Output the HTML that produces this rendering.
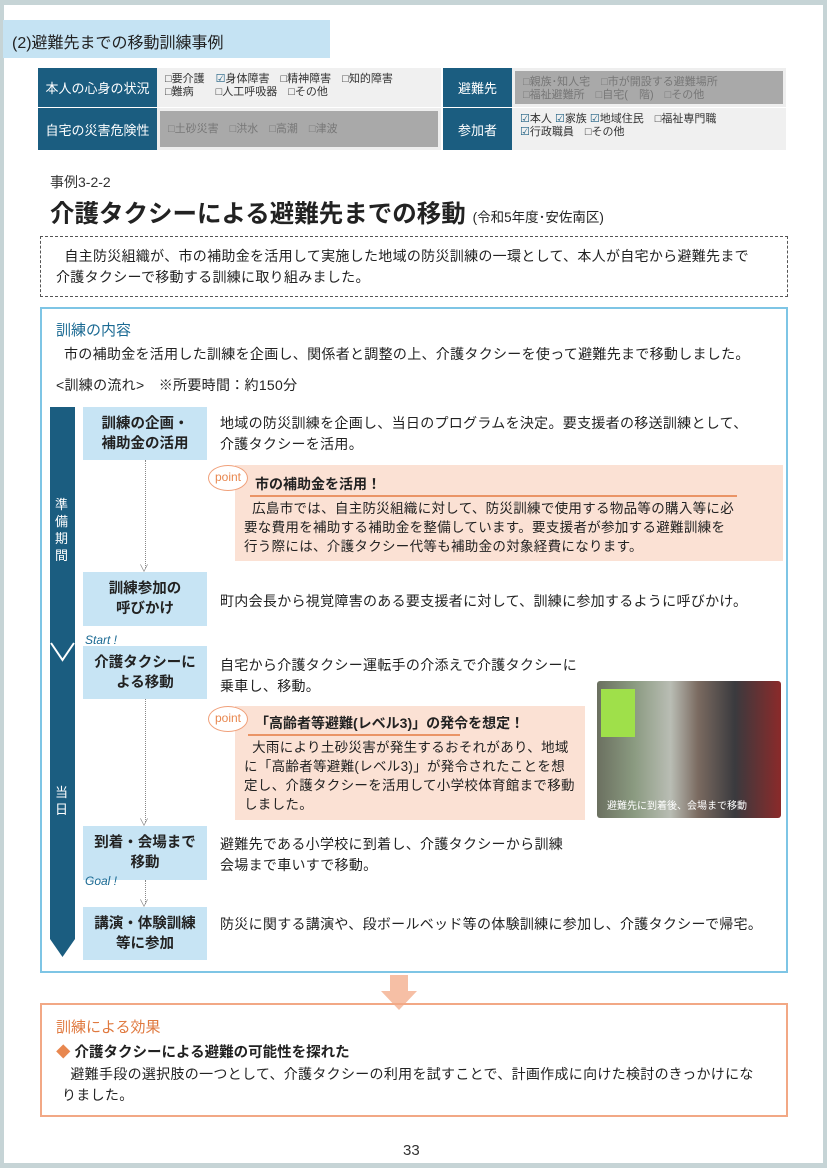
<!DOCTYPE html>
<html><head><meta charset="utf-8"><style>
*{margin:0;padding:0;box-sizing:border-box}
body{width:827px;height:1168px;background:#c6d4d6;position:relative;overflow:hidden;font-family:"Liberation Sans","Noto Sans CJK JP",sans-serif;color:#222}
.a{position:absolute}
.page{left:4px;top:5px;width:819px;height:1158px;background:#fff}
.lab{background:#1b5d80;color:#fff;font-size:13px;display:flex;align-items:center;justify-content:center}
.cell{font-size:11px;line-height:13px;padding:5px 8px;color:#333;white-space:nowrap}
.step{background:#c7e4f4;font-size:14.5px;line-height:20px;text-align:center;display:flex;align-items:center;justify-content:center;font-weight:bold;color:#222}
.t{font-size:14px;line-height:21px;letter-spacing:0.3px}
.pt{background:#fbe1d4}
.pi{width:40px;height:26px;border:1.5px solid #f0a07a;border-radius:50%;background:#fff;color:#e8874f;font-size:12px;text-align:center;line-height:22px}
.dl{border-left:1.5px dotted #888}
.pb{font-size:13.5px;line-height:19px;letter-spacing:0.3px}
</style></head><body>
<div class="a page"></div>
<div class="a" style="left:3px;top:20px;width:327px;height:38px;background:#c5e3f3"></div>
<div class="a" style="left:12px;top:29px;font-size:16px">(2)避難先までの移動訓練事例</div>

<div class="a lab" style="left:38px;top:68px;width:119px;height:39px">本人の心身の状況</div>
<div class="a cell" style="left:157px;top:68px;width:284px;height:39px;background:#f0f0f0">□要介護　<span style="color:#1b5d80">☑</span>身体障害　□精神障害　□知的障害<br>□難病　　□人工呼吸器　□その他</div>
<div class="a lab" style="left:443px;top:68px;width:69px;height:39px">避難先</div>
<div class="a cell" style="left:512px;top:68px;width:274px;height:39px;background:#a9a9a9;border:3px solid #eee;color:#777">□親族･知人宅　□市が開設する避難場所<br>□福祉避難所　□自宅(　階)　□その他</div>
<div class="a lab" style="left:38px;top:108px;width:119px;height:42px">自宅の災害危険性</div>
<div class="a cell" style="left:157px;top:108px;width:284px;height:42px;background:#a9a9a9;border:3px solid #eee;color:#777;padding-top:12px">□土砂災害　□洪水　□高潮　□津波</div>
<div class="a lab" style="left:443px;top:108px;width:69px;height:42px">参加者</div>
<div class="a cell" style="left:512px;top:108px;width:274px;height:42px;background:#f0f0f0"><span style="color:#1b5d80">☑</span>本人 <span style="color:#1b5d80">☑</span>家族 <span style="color:#1b5d80">☑</span>地域住民　□福祉専門職<br><span style="color:#1b5d80">☑</span>行政職員　□その他</div>

<div class="a" style="left:50px;top:172px;font-size:14px;color:#333">事例3-2-2</div>
<div class="a" style="left:50px;top:195px;font-size:24.5px;font-weight:bold;white-space:nowrap">介護タクシーによる避難先までの移動 <span style="font-size:13.5px;font-weight:normal">(令和5年度･安佐南区)</span></div>

<div class="a" style="left:40px;top:236px;width:748px;height:61px;border:1.5px dashed #555"></div>
<div class="a t" style="left:56px;top:246px;white-space:nowrap">&nbsp;&nbsp;自主防災組織が、市の補助金を活用して実施した地域の防災訓練の一環として、本人が自宅から避難先まで<br>介護タクシーで移動する訓練に取り組みました。</div>

<div class="a" style="left:40px;top:307px;width:748px;height:666px;border:2px solid #7ec5e5"></div>
<div class="a" style="left:56px;top:319px;font-size:15px;color:#1b6a93">訓練の内容</div>
<div class="a t" style="left:64px;top:344px;white-space:nowrap">市の補助金を活用した訓練を企画し、関係者と調整の上、介護タクシーを使って避難先まで移動しました。</div>
<div class="a t" style="left:56px;top:375px">&lt;訓練の流れ&gt;　※所要時間：約150分</div>

<svg class="a" style="left:48px;top:407px" width="30" height="552"><polygon points="2,0 27,0 27,532 14.5,550 2,532" fill="#1b5d80"/><polyline points="3,236 14.5,253 26,236" fill="none" stroke="#fff" stroke-width="2"/></svg>
<div class="a" style="left:55px;top:496px;color:#fff;font-size:13px;line-height:17px;width:14px">準<br>備<br>期<br>間</div>
<div class="a" style="left:55px;top:784px;color:#fff;font-size:13px;line-height:17px;width:14px">当<br>日</div>

<div class="a step" style="left:83px;top:407px;width:124px;height:53px">訓練の企画・<br>補助金の活用</div>
<div class="a step" style="left:83px;top:572px;width:124px;height:54px">訓練参加の<br>呼びかけ</div>
<div class="a step" style="left:83px;top:646px;width:124px;height:53px">介護タクシーに<br>よる移動</div>
<div class="a step" style="left:83px;top:826px;width:124px;height:54px">到着・会場まで<br>移動</div>
<div class="a step" style="left:83px;top:907px;width:124px;height:53px">講演・体験訓練<br>等に参加</div>
<div class="a" style="left:85px;top:633px;font-size:12px;font-style:italic;color:#1b6a93">Start !</div>
<div class="a" style="left:85px;top:874px;font-size:12px;font-style:italic;color:#1b6a93">Goal !</div>

<div class="a dl" style="left:145px;top:460px;height:108px"></div>
<div class="a dl" style="left:145px;top:699px;height:123px"></div>
<div class="a dl" style="left:145px;top:880px;height:24px"></div>
<div class="a" style="left:139px;top:560px;color:#888;font-size:10px">∨</div>
<div class="a" style="left:139px;top:814px;color:#888;font-size:10px">∨</div>
<div class="a" style="left:139px;top:895px;color:#888;font-size:10px">∨</div>

<div class="a t" style="left:220px;top:413px;white-space:nowrap">地域の防災訓練を企画し、当日のプログラムを決定。要支援者の移送訓練として、<br>介護タクシーを活用。</div>
<div class="a pt" style="left:235px;top:465px;width:548px;height:96px"></div>
<div class="a pi" style="left:208px;top:465px">point</div>
<div class="a" style="left:255px;top:474px;font-size:14px;font-weight:bold">市の補助金を活用！</div>
<div class="a" style="left:250px;top:495px;width:487px;height:2px;background:#ea9466"></div>
<div class="a pb" style="left:244px;top:499px;white-space:nowrap">&nbsp;&nbsp;広島市では、自主防災組織に対して、防災訓練で使用する物品等の購入等に必<br>要な費用を補助する補助金を整備しています。要支援者が参加する避難訓練を<br>行う際には、介護タクシー代等も補助金の対象経費になります。</div>

<div class="a t" style="left:220px;top:591px;white-space:nowrap">町内会長から視覚障害のある要支援者に対して、訓練に参加するように呼びかけ。</div>
<div class="a t" style="left:220px;top:655px;white-space:nowrap">自宅から介護タクシー運転手の介添えで介護タクシーに<br>乗車し、移動。</div>

<div class="a pt" style="left:235px;top:706px;width:350px;height:114px"></div>
<div class="a pi" style="left:208px;top:706px">point</div>
<div class="a" style="left:255px;top:713px;font-size:14px;font-weight:bold">「高齢者等避難(レベル3)」の発令を想定！</div>
<div class="a" style="left:248px;top:734px;width:212px;height:2px;background:#ea9466"></div>
<div class="a pb" style="left:244px;top:738px;white-space:nowrap">&nbsp;&nbsp;大雨により土砂災害が発生するおそれがあり、地域<br>に「高齢者等避難(レベル3)」が発令されたことを想<br>定し、介護タクシーを活用して小学校体育館まで移動<br>しました。</div>

<div class="a" style="left:597px;top:681px;width:184px;height:137px;background:linear-gradient(90deg,#6b7060 0%,#8a9a80 20%,#b9bdb4 40%,#7a6a60 55%,#3a3a3e 75%,#8b2a2a 100%);border-radius:3px"></div>
<div class="a" style="left:601px;top:689px;width:34px;height:48px;background:#9fe04a"></div>
<div class="a" style="left:607px;top:797px;font-size:10px;color:#fff">避難先に到着後、会場まで移動</div>

<div class="a t" style="left:220px;top:834px;white-space:nowrap">避難先である小学校に到着し、介護タクシーから訓練<br>会場まで車いすで移動。</div>
<div class="a t" style="left:220px;top:914px;white-space:nowrap">防災に関する講演や、段ボールベッド等の体験訓練に参加し、介護タクシーで帰宅。</div>

<svg class="a" style="left:380px;top:975px" width="38" height="36"><polygon points="10,0 28,0 28,16 37,16 19,35 1,16 10,16" fill="#f6bfa5"/></svg>
<div class="a" style="left:40px;top:1003px;width:748px;height:114px;border:2px solid #f2a885"></div>
<div class="a" style="left:56px;top:1016px;font-size:15px;color:#e07a40">訓練による効果</div>
<div class="a" style="left:56px;top:1041px;font-size:14.5px;font-weight:bold"><span style="color:#e8874f">◆</span> 介護タクシーによる避難の可能性を探れた</div>
<div class="a t" style="left:62px;top:1064px;white-space:nowrap">&nbsp;&nbsp;避難手段の選択肢の一つとして、介護タクシーの利用を試すことで、計画作成に向けた検討のきっかけにな<br>りました。</div>
<div class="a" style="left:403px;top:1142px;font-size:15px;color:#333">33</div>
</body></html>
